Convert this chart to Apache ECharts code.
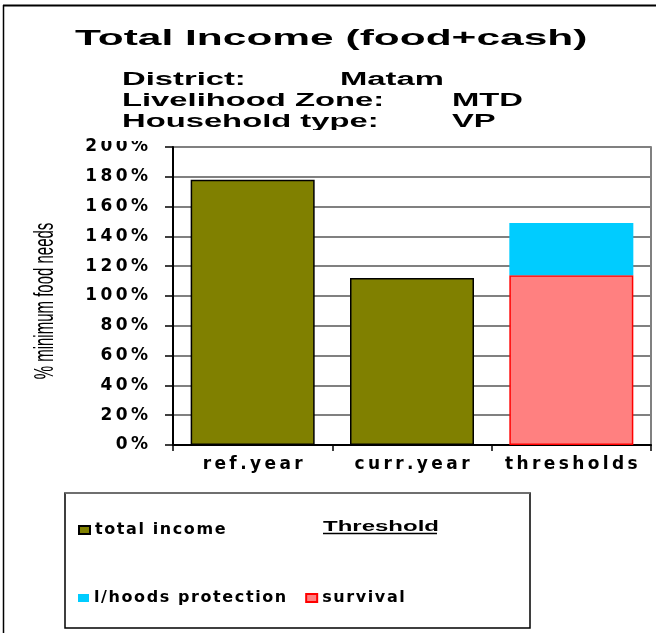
<!DOCTYPE html>
<html>
<head>
<meta charset="utf-8">
<script src="https://cdn.jsdelivr.net/npm/echarts@6/dist/echarts.min.js"></script>
<style>
  html, body { margin: 0; padding: 0; background: #fff; }
  #main { width: 656px; height: 633px; }
</style>
</head>
<body>
<div id="main"></div>
<script>
  // data
  const categories = ['ref.year', 'curr.year', 'thresholds'];
  const totalIncome = [178, 112, '-'];
  const survival = ['-', '-', 114];
  const protection = ['-', '-', 35];
  const yTicks = { min: 0, max: 200, interval: 20 };

  // wide look of the original text
  const spread = s => String(s).split('').join('\u2009');
  const spreadThin = s => String(s).split('').join('\u200A');

  const txt = (text, x, y, size, sx, weight) => ({
    type: 'text',
    x: x,
    y: y,
    scaleX: sx,
    style: {
      text: text,
      font: (weight || 'bold') + ' ' + size + 'px "Liberation Sans", Arial, sans-serif',
      fill: '#000',
      align: 'left',
      verticalAlign: 'middle'
    }
  });

  const legendText = {
    color: '#000',
    fontFamily: 'DejaVu Sans',
    fontWeight: 'bold',
    fontSize: 16
  };

  var myChart = echarts.init(document.getElementById('main'));
  myChart.setOption({
    animation: false,
    backgroundColor: '#fff',
    grid: { left: 173, right: 5, top: 147, bottom: 188 },
    xAxis: {
      type: 'category',
      data: categories,
      axisLine: { lineStyle: { color: '#000', width: 2 } },
      axisTick: { show: true, length: 6, lineStyle: { color: '#000', width: 1.5 } },
      axisLabel: {
        interval: 0,
        margin: 11,
        color: '#000',
        fontFamily: 'DejaVu Sans',
        fontWeight: 'bold',
        fontSize: 17,
        formatter: v => spread(v)
      }
    },
    yAxis: [
      {
        type: 'value',
        min: yTicks.min,
        max: yTicks.max,
        interval: yTicks.interval,
        axisLine: { show: true, lineStyle: { color: '#000', width: 2 } },
        axisTick: { show: true, length: 8, lineStyle: { color: '#000', width: 1.5 } },
        splitLine: { show: true, lineStyle: { color: '#808080', width: 2 } },
        axisLabel: {
          margin: 25,
          color: '#000',
          fontFamily: 'DejaVu Sans',
          fontWeight: 'bold',
          fontSize: 17,
          formatter: v => spread(v + '%')
        }
      },
      {
        type: 'value',
        position: 'right',
        min: yTicks.min,
        max: yTicks.max,
        interval: yTicks.interval,
        axisLine: { show: true, lineStyle: { color: '#808080', width: 2 } },
        axisTick: { show: false },
        axisLabel: { show: false },
        splitLine: { show: false }
      }
    ],
    legend: [
      {
        data: ['total income'],
        left: 73,
        top: 517,
        icon: 'rect',
        itemWidth: 11,
        itemHeight: 8,
        selectedMode: false,
        textStyle: legendText,
        formatter: n => spreadThin(n)
      },
      {
        data: ['l/hoods protection', 'survival'],
        left: 73,
        top: 585,
        icon: 'rect',
        itemWidth: 11,
        itemHeight: 8,
        itemGap: 19,
        selectedMode: false,
        textStyle: legendText,
        formatter: n => spreadThin(n)
      }
    ],
    series: [
      {
        name: 'total income',
        type: 'bar',
        data: totalIncome,
        barWidth: 124,
        barGap: '-100%',
        itemStyle: { color: '#808000', borderColor: '#000', borderWidth: 1.5 }
      },
      {
        name: 'survival',
        type: 'bar',
        stack: 'th',
        data: survival,
        barWidth: 124,
        itemStyle: { color: '#FF8080', borderColor: '#FF0000', borderWidth: 1.5 }
      },
      {
        name: 'l/hoods protection',
        type: 'bar',
        stack: 'th',
        data: protection,
        barWidth: 124,
        itemStyle: { color: '#00CCFF' }
      }
    ],
    graphic: [
      // outer frame (top + left)
      { type: 'line', shape: { x1: 3, y1: 5.5, x2: 656, y2: 5.5 }, style: { stroke: '#000', lineWidth: 2 } },
      { type: 'line', shape: { x1: 3.5, y1: 5, x2: 3.5, y2: 633 }, style: { stroke: '#000', lineWidth: 1.5 } },
      // title block
      txt('Total Income (food+cash)', 75, 38.5, 22, 1.93),
      txt('District:', 122, 80.5, 18, 1.82),
      txt('Matam', 340, 80.5, 18, 1.82),
      txt('Livelihood Zone:', 122, 101.5, 18, 1.82),
      txt('MTD', 452, 101.5, 18, 1.82),
      txt('Household type:', 122, 122.5, 18, 1.82),
      txt('VP', 452, 122.5, 18, 1.82),
      // chart area covers the bottom of the last line
      { type: 'rect', z: 10, shape: { x: 100, y: 130, width: 500, height: 11 }, style: { fill: '#fff' } },
      // y axis name
      {
        type: 'text',
        x: 45,
        y: 301,
        rotation: Math.PI / 2,
        scaleY: 1.85,
        style: {
          text: '% minimum food needs',
          font: '15px "Liberation Sans", Arial, sans-serif',
          fill: '#000',
          align: 'center',
          verticalAlign: 'middle'
        }
      },
      // legend box
      { type: 'rect', shape: { x: 65, y: 493, width: 465, height: 135 }, style: { fill: 'none', stroke: '#000', lineWidth: 1.5 } },
      { type: 'line', shape: { x1: 65, y1: 493, x2: 530, y2: 493 }, style: { stroke: '#808080', lineWidth: 1.5 } },
      txt('Threshold', 323, 527, 15, 1.6),
      { type: 'line', shape: { x1: 323, y1: 533.5, x2: 437, y2: 533.5 }, style: { stroke: '#000', lineWidth: 1.5 } }
    ]
  });
</script>
</body>
</html>
